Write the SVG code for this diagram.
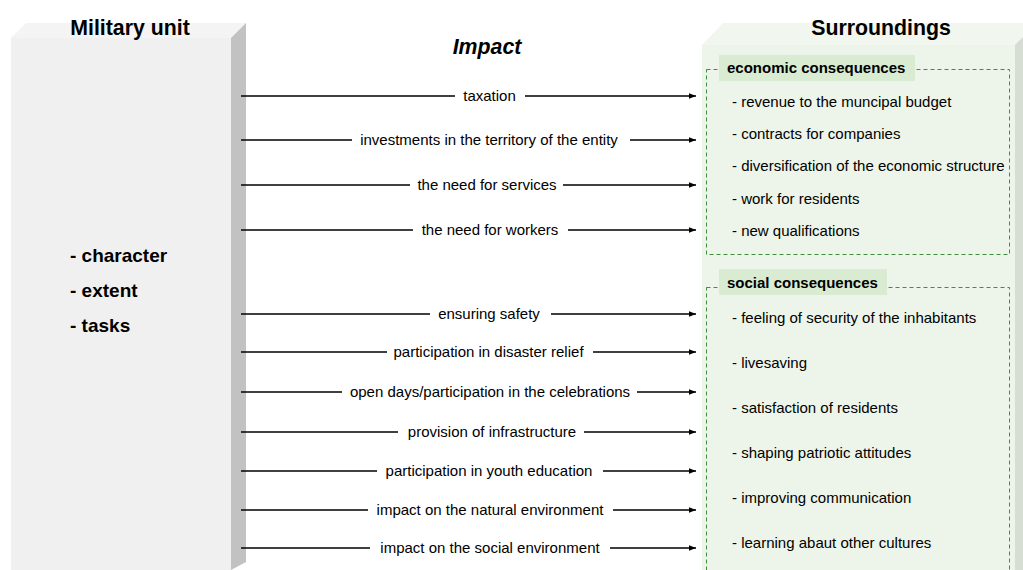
<svg xmlns="http://www.w3.org/2000/svg" width="1023" height="570" viewBox="0 0 1023 570">
<style>
text{font-family:"Liberation Sans",Arial,sans-serif;fill:#000}
.title{font-size:21.3px;font-weight:bold;text-anchor:middle}
.lbl{font-size:15px;text-anchor:middle}
.item{font-size:15px}
.left{font-size:19px;font-weight:bold}
.hdr{font-size:15px;font-weight:bold}
.conn{stroke:#000;stroke-width:1.3;fill:none}
.dash{fill:none;stroke:#3f8f3f;stroke-width:1;stroke-dasharray:4 3}
</style>
<defs>
<marker id="ah" viewBox="0 0 10 10" refX="10" refY="5" markerWidth="7" markerHeight="7" markerUnits="userSpaceOnUse" orient="auto">
<path d="M0,1 L10,5 L0,9 z" fill="#000"/>
</marker>
</defs>
<rect width="1023" height="570" fill="#fff"/>
<g id="military-unit">
<polygon points="11,38 26,23 246,23 231,38" fill="#f4f4f4"/>
<rect x="11" y="38" width="220" height="532" fill="#f0f0f0"/>
<polygon points="231,38 246,23 246,562 231,570" fill="#c2c2c2"/>
<text class="title" x="130" y="35">Military unit</text>
<text class="left" x="70" y="262">- character</text>
<text class="left" x="70" y="297">- extent</text>
<text class="left" x="70" y="332">- tasks</text>
</g>
<g id="surroundings">
<polygon points="702,45 723,23 1023,23 1023,45" fill="#f1f7ee"/>
<rect x="702" y="45" width="313" height="525" fill="#edf5ea"/>
<polygon points="1015,45 1023,37 1023,570 1015,570" fill="#d6ddd3"/>
<text class="title" x="881" y="35">Surroundings</text>
</g>
<g id="economic-consequences">
<rect class="dash" x="706.5" y="69.5" width="303" height="185"/>
<rect x="719" y="55" width="196" height="26" fill="#d9ecd2"/>
<text class="hdr" x="727" y="73">economic consequences</text>
<text class="item" x="732" y="107">- revenue to the muncipal budget</text>
<text class="item" x="732" y="139">- contracts for companies</text>
<text class="item" x="732" y="171">- diversification of the economic structure</text>
<text class="item" x="732" y="204">- work for residents</text>
<text class="item" x="732" y="236">- new qualifications</text>
</g>
<g id="social-consequences">
<rect class="dash" x="706.5" y="287.5" width="303" height="290"/>
<rect x="719" y="269" width="168" height="26" fill="#d9ecd2"/>
<text class="hdr" x="727" y="288">social consequences</text>
<text class="item" x="732" y="323">- feeling of security of the inhabitants</text>
<text class="item" x="732" y="368">- livesaving</text>
<text class="item" x="732" y="413">- satisfaction of residents</text>
<text class="item" x="732" y="458">- shaping patriotic attitudes</text>
<text class="item" x="732" y="503">- improving communication</text>
<text class="item" x="732" y="548">- learning abaut other cultures</text>
</g>
<g id="impact-title">
<text class="title" x="487" y="54" font-style="italic">Impact</text>
</g>
<g id="connectors">
<line class="conn" x1="241" y1="96" x2="455" y2="96"/><line class="conn" x1="525" y1="96" x2="696" y2="96" marker-end="url(#ah)"/>
<text class="lbl" x="489.5" y="101">taxation</text>
<line class="conn" x1="241" y1="140" x2="352" y2="140"/><line class="conn" x1="630" y1="140" x2="696" y2="140" marker-end="url(#ah)"/>
<text class="lbl" x="489" y="145">investments in the territory of the entity</text>
<line class="conn" x1="241" y1="185" x2="410" y2="185"/><line class="conn" x1="563" y1="185" x2="696" y2="185" marker-end="url(#ah)"/>
<text class="lbl" x="487" y="190">the need for services</text>
<line class="conn" x1="241" y1="230" x2="413" y2="230"/><line class="conn" x1="568" y1="230" x2="696" y2="230" marker-end="url(#ah)"/>
<text class="lbl" x="490" y="235">the need for workers</text>
<line class="conn" x1="241" y1="314" x2="430" y2="314"/><line class="conn" x1="551" y1="314" x2="696" y2="314" marker-end="url(#ah)"/>
<text class="lbl" x="489" y="319">ensuring safety</text>
<line class="conn" x1="241" y1="352" x2="387" y2="352"/><line class="conn" x1="593" y1="352" x2="696" y2="352" marker-end="url(#ah)"/>
<text class="lbl" x="488.5" y="357">participation in disaster relief</text>
<line class="conn" x1="241" y1="392" x2="342" y2="392"/><line class="conn" x1="637" y1="392" x2="696" y2="392" marker-end="url(#ah)"/>
<text class="lbl" x="490" y="397">open days/participation in the celebrations</text>
<line class="conn" x1="241" y1="432" x2="398" y2="432"/><line class="conn" x1="584" y1="432" x2="696" y2="432" marker-end="url(#ah)"/>
<text class="lbl" x="492" y="437">provision of infrastructure</text>
<line class="conn" x1="241" y1="471" x2="377" y2="471"/><line class="conn" x1="603" y1="471" x2="696" y2="471" marker-end="url(#ah)"/>
<text class="lbl" x="489" y="476">participation in youth education</text>
<line class="conn" x1="241" y1="510" x2="368" y2="510"/><line class="conn" x1="613" y1="510" x2="696" y2="510" marker-end="url(#ah)"/>
<text class="lbl" x="490" y="515">impact on the natural environment</text>
<line class="conn" x1="241" y1="548" x2="370" y2="548"/><line class="conn" x1="610" y1="548" x2="696" y2="548" marker-end="url(#ah)"/>
<text class="lbl" x="490" y="553">impact on the social environment</text>
</g>
</svg>
